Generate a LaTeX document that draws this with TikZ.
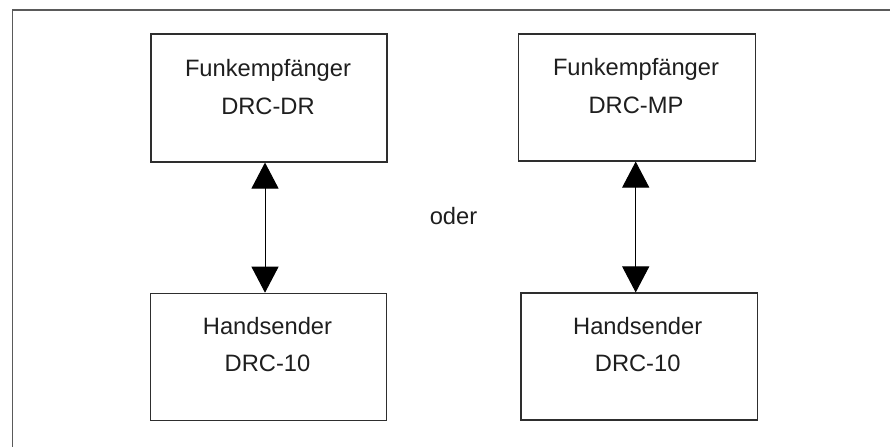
\documentclass[tikz,border=0pt]{standalone}
\usepackage{fontspec}
\setmainfont{Liberation Sans}
\usetikzlibrary{arrows.meta}
\definecolor{framegray}{HTML}{5A5A5A}
\definecolor{boxline}{HTML}{2E2E2E}
\definecolor{txt}{HTML}{1E1E1E}
\tikzset{
  unitbox/.style={draw=boxline, line width=1.1pt, rectangle, inner sep=0pt},
  lbl/.style={anchor=base, inner sep=0pt, text=txt, font=\fontsize{23.7}{28}\selectfont},
  link/.style={draw=black, line width=1pt, {Triangle[width=27pt,length=26pt]}-{Triangle[width=27pt,length=26pt]}, shorten <=0pt, shorten >=0pt}
}
\begin{document}
\begin{tikzpicture}[x=1pt,y=-1pt]
\useasboundingbox (0,0) rectangle (890,447);
\draw[framegray, line width=1.4pt] (890,10) -- (12.5,10) -- (12.5,447);
% boxes
\node[unitbox, minimum width=236pt, minimum height=128pt] (rx1) at (269,98) {};
\node[unitbox, minimum width=237.5pt, minimum height=127pt] (rx2) at (637,97.5) {};
\node[unitbox, minimum width=236pt, minimum height=127.5pt] (tx1) at (268.7,357) {};
\node[unitbox, minimum width=236.7pt, minimum height=127pt] (tx2) at (639.3,356.5) {};
% labels
\node[lbl] (rx1a) at (268,76) {Funkempfänger};
\node[lbl] (rx1b) at (268,114) {DRC-DR};
\node[lbl] (rx2a) at (636,75.5) {Funkempfänger};
\node[lbl] (rx2b) at (636,113.5) {DRC-MP};
\node[lbl] (tx1a) at (267.5,334) {Handsender};
\node[lbl] (tx1b) at (267.5,371) {DRC-10};
\node[lbl] (tx2a) at (637.7,334) {Handsender};
\node[lbl] (tx2b) at (637.7,371) {DRC-10};
\node[lbl] (oder) at (453.5,224.3) {oder};
% connectors
\draw[link] ([xshift=-4pt]rx1.south) -- ([xshift=-4pt]rx1.south |- tx1.north);
\draw[link] ([xshift=-1.3pt]rx2.south) -- ([xshift=-1.3pt]rx2.south |- tx2.north);
\end{tikzpicture}
\end{document}
